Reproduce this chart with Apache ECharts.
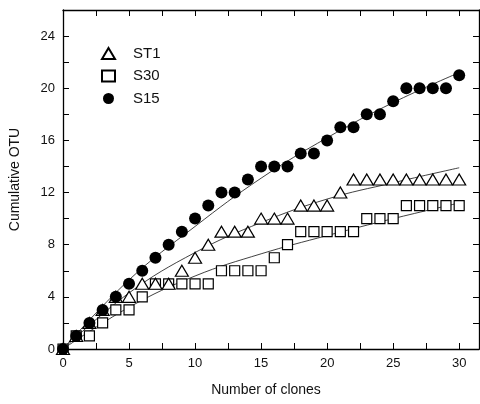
<!DOCTYPE html>
<html><head><meta charset="utf-8">
<script src="https://cdn.jsdelivr.net/npm/echarts@6/dist/echarts.min.js"></script>
<style>html,body{margin:0;padding:0;background:#fff}#c{width:480px;height:404px}</style>
</head><body><div id="c"></div>
<script>
const clones = [0,1,2,3,4,5,6,7,8,9,10,11,12,13,14,15,16,17,18,19,20,21,22,23,24,25,26,27,28,29,30];
const st1 = [0,1,2,3,4,4,5,5,5,6,7,8,9,9,9,10,10,10,11,11,11,12,13,13,13,13,13,13,13,13,13];
const s30 = [0,1,1,2,3,3,4,5,5,5,5,5,6,6,6,6,7,8,9,9,9,9,9,10,10,10,11,11,11,11,11];
const s15 = [0,1,2,3,4,5,6,7,8,9,10,11,12,12,13,14,14,14,15,15,16,17,17,18,18,19,20,20,20,20,21];
const fitX = [0,5,10,15,20,25,30];
const fitST1 = [0,4.3,7.4,9.7,11.5,12.75,13.9];
const fitS30 = [0,3.2,5.6,7.3,8.7,10.0,11.2];
const fitS15 = [0,5.3,9.4,13.1,16.2,18.9,21.2];
const xTicks = [0,5,10,15,20,25,30];
const yTicks = [0,4,8,12,16,20,24];

const pair = (xs, ys) => xs.map((x,i)=>[x, ys[i]]);
const font = 'Liberation Sans';
const axisCommon = {
  axisLine:{show:true,onZero:false,lineStyle:{color:'#000',width:1.3}},
  axisTick:{show:true,inside:true,length:6,lineStyle:{color:'#000',width:1}},
  minorTick:{show:false},
  splitLine:{show:false}
};
const chart = echarts.init(document.getElementById('c'));
const fitLine = (name, ys) => ({
  type:'line', name, data:pair(fitX, ys), smooth:0.4, showSymbol:false, symbol:'none',
  lineStyle:{color:'#111',width:0.8}, z:1, silent:true
});
chart.setOption({
  animation:false,
  grid:{left:62,right:1,top:10,bottom:55},
  legend:{
    data:['ST1','S30','S15'], orient:'vertical', left:96, top:41,
    itemWidth:13, itemHeight:11, itemGap:7.5,
    textStyle:{fontFamily:font,fontSize:15,color:'#111',padding:[0,0,0,13]}
  },
  xAxis:[
    Object.assign({type:'value',min:0,max:31.5,interval:2.5,position:'bottom',
      name:'Number of clones',nameLocation:'middle',nameGap:34,
      nameTextStyle:{fontFamily:font,fontSize:14,color:'#111',padding:[0,10,0,0]},
      axisLabel:{fontFamily:font,fontSize:13,color:'#111',margin:8,showMaxLabel:false,
        formatter:v=>xTicks.includes(v)?String(v):''}}, axisCommon),
    Object.assign({type:'value',min:0,max:31.5,interval:2.5,position:'top',
      axisLabel:{show:false}}, axisCommon)
  ],
  yAxis:[
    Object.assign({type:'value',min:0,max:26,interval:2,position:'left',
      name:'Cumulative OTU',nameLocation:'middle',nameGap:41,
      nameTextStyle:{fontFamily:font,fontSize:14,color:'#111'},
      axisLabel:{fontFamily:font,fontSize:13,color:'#111',margin:8,showMaxLabel:false,
        formatter:v=>yTicks.includes(v)?String(v):''}}, axisCommon),
    Object.assign({type:'value',min:0,max:26,interval:2,position:'right',
      axisLabel:{show:false}}, axisCommon)
  ],
  series:[
    fitLine('fitST1', fitST1),
    fitLine('fitS30', fitS30),
    fitLine('fitS15', fitS15),
    {type:'scatter',name:'ST1',data:pair(clones,st1),symbol:'triangle',symbolSize:[13,11],
      itemStyle:{color:'#fff',borderColor:'#000',borderWidth:1.2,opacity:1},z:3},
    {type:'scatter',name:'S30',data:pair(clones,s30),symbol:'rect',symbolSize:10,
      itemStyle:{color:'#fff',borderColor:'#000',borderWidth:1.2,opacity:1},z:2},
    {type:'scatter',name:'S15',data:pair(clones,s15),symbol:'circle',symbolSize:12,
      itemStyle:{color:'#000',opacity:1},z:4}
  ]
});
</script></body></html>
